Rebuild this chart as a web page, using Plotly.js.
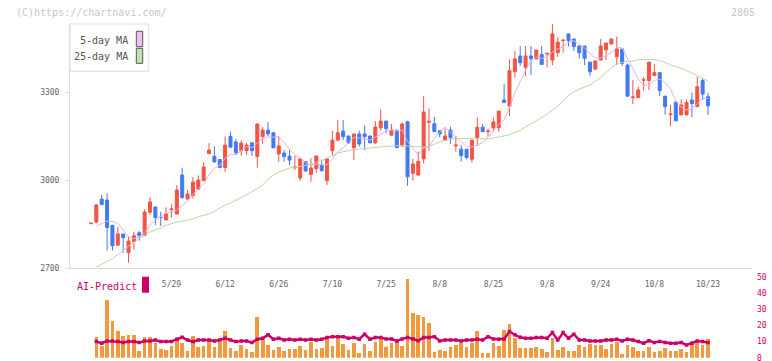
<!DOCTYPE html>
<html><head><meta charset="utf-8">
<script src="https://cdn.plot.ly/plotly-3.0.1.min.js"></script>
<style>html,body{margin:0;padding:0;background:#fff}#chart{width:772px;height:361px}</style>
</head><body><div id="chart"></div>
<script>
// Trading dates (2025)
const dates = ['5/8','5/9','5/12','5/13','5/14','5/15','5/16','5/19','5/20','5/21','5/22','5/23','5/26','5/27','5/28','5/29','5/30',
'6/2','6/3','6/4','6/5','6/6','6/9','6/10','6/11','6/12','6/13','6/16','6/17','6/18','6/19','6/20','6/23','6/24','6/25','6/26','6/27','6/30',
'7/1','7/2','7/3','7/4','7/7','7/8','7/9','7/10','7/11','7/14','7/15','7/16','7/17','7/18','7/22','7/23','7/24','7/25','7/28','7/29','7/30','7/31',
'8/1','8/4','8/5','8/6','8/7','8/8','8/12','8/13','8/14','8/15','8/18','8/19','8/20','8/21','8/22','8/25','8/26','8/27','8/28','8/29',
'9/1','9/2','9/3','9/4','9/5','9/8','9/9','9/10','9/11','9/12','9/16','9/17','9/18','9/19','9/22','9/24','9/25','9/26','9/29','9/30',
'10/1','10/2','10/3','10/6','10/7','10/8','10/9','10/10','10/14','10/15','10/16','10/17','10/20','10/21','10/22','10/23'];

const openP = [2851,2857,2935,2932,2845,2778,2816,2752,2790,2820,2811,2890,2908,2873,2864,2899,2884,3017,2935,2947,
2969,2998,3090,3081,3070,3043,3149,3130,3100,3100,3127,3080,3148,3170,3161,3089,3092,3081,3042,3007,
3063,3019,3039,3051,2998,3100,3136,3167,3150,3110,3157,3157,3150,3127,3178,3201,3153,3170,3116,3199,
3023,3017,3072,3197,3192,3168,3136,3170,3117,3105,3105,3071,3145,3180,3165,3178,3178,3273,3252,3369,
3423,3384,3423,3413,3428,3430,3409,3434,3476,3498,3481,3457,3457,3402,3378,3409,3444,3464,3420,3447,
3392,3281,3281,3340,3339,3356,3366,3286,3223,3266,3222,3222,3273,3250,3339,3284];
const highP = [2853,2918,2949,2955,2848,2840,2817,2807,2824,2826,2900,2941,2910,2892,2907,2917,2983,3042,2966,3010,
3016,3061,3126,3115,3071,3148,3165,3139,3136,3127,3128,3192,3180,3198,3162,3148,3102,3102,3082,3072,
3064,3074,3083,3070,3073,3167,3205,3205,3151,3158,3168,3187,3151,3201,3242,3202,3191,3171,3196,3202,
3072,3097,3286,3244,3215,3169,3176,3182,3150,3119,3106,3137,3214,3191,3176,3213,3236,3327,3411,3440,
3457,3457,3457,3443,3457,3433,3532,3487,3478,3499,3482,3458,3458,3403,3407,3481,3468,3482,3489,3448,
3397,3341,3318,3352,3403,3395,3367,3287,3256,3267,3275,3275,3298,3352,3347,3298];
const lowP = [2851,2852,2916,2760,2760,2777,2752,2718,2762,2793,2810,2881,2847,2843,2863,2873,2883,2937,2934,2937,
2966,2997,3089,3059,3040,3028,3111,3086,3083,3085,3082,3042,3123,3150,3108,3062,3062,3051,3034,2998,
3028,2994,3025,3028,2983,3085,3135,3136,3123,3068,3114,3102,3125,3122,3168,3159,3152,3108,3115,2980,
2998,3014,3057,3099,3164,3145,3135,3123,3097,3063,3070,3059,3116,3164,3148,3165,3165,3263,3218,3349,
3389,3355,3358,3412,3392,3384,3392,3420,3434,3455,3440,3414,3392,3355,3377,3408,3409,3463,3392,3389,
3284,3259,3280,3305,3307,3355,3286,3223,3184,3201,3221,3221,3214,3249,3273,3222];
const closeP = [2853,2915,2916,2838,2776,2816,2804,2792,2810,2810,2891,2925,2872,2872,2884,2901,2966,2940,2952,2993,
3000,3044,3102,3062,3043,3119,3112,3093,3126,3119,3100,3191,3170,3157,3110,3116,3080,3068,3044,3072,
3031,3041,3082,3032,3072,3136,3161,3148,3127,3157,3123,3148,3127,3181,3201,3175,3170,3111,3191,3011,
3055,3063,3232,3200,3165,3157,3150,3144,3119,3083,3077,3136,3180,3165,3167,3198,3235,3264,3373,3413,
3400,3423,3414,3443,3394,3432,3498,3470,3477,3475,3455,3434,3415,3369,3406,3457,3467,3481,3447,3398,
3286,3283,3307,3342,3402,3366,3305,3250,3225,3202,3256,3264,3261,3318,3293,3253];

const ma5 = [null,2843,2852,2860,2859,2852,2830,2805,2800,2806,2821,2846,2862,2874,2889,2891,2899,2913,2929,2950,
2970,2986,3018,3040,3050,3074,3088,3086,3099,3114,3110,3126,3141,3147,3146,3149,3127,3106,3084,3076,
3059,3051,3054,3052,3052,3073,3097,3110,3129,3146,3143,3141,3136,3147,3156,3166,3171,3168,3170,3132,
3108,3086,3110,3112,3143,3163,3181,3163,3147,3130,3114,3112,3119,3128,3145,3169,3189,3206,3247,3297,
3337,3375,3405,3419,3414,3421,3436,3447,3454,3470,3475,3462,3451,3430,3416,3416,3423,3436,3452,3450,
3416,3379,3344,3323,3324,3340,3344,3333,3310,3270,3248,3239,3242,3260,3278,3278];
const ma25 = [null,2703,2712,2722,2732,2746,2758,2775,2789,2801,2812,2823,2830,2836,2845,2852,2857,2860,2863,2867,
2875,2880,2884,2894,2905,2915,2922,2932,2940,2949,2959,2971,2983,3003,3017,3027,3034,3041,3043,3046,
3049,3053,3061,3066,3075,3084,3092,3097,3101,3103,3105,3107,3111,3112,3114,3115,3116,3117,3118,3116,
3114,3112,3112,3114,3123,3130,3135,3140,3141,3142,3143,3142,3140,3140,3141,3143,3146,3150,3155,3162,
3170,3181,3191,3203,3213,3225,3237,3252,3269,3288,3300,3310,3317,3324,3337,3349,3366,3384,3394,3401,
3405,3406,3410,3411,3412,3411,3407,3401,3392,3387,3381,3373,3365,3356,3346,3337];

const aiBars = [null,13.1,7.3,35.6,22.9,16.3,13.5,14.2,14.2,4.4,13.1,13.1,9.4,5.4,4.8,7.3,11.0,9.4,4.4,13.5,
6.9,7.3,10.6,6.9,10,16.7,6.3,4.4,7.9,5.4,3.8,25,11,7.9,4.8,6.9,4.4,5.4,5.2,7.3,
4.8,10,5.4,6.3,12.1,7.3,13.1,8.5,4.8,9.4,3.1,8.5,4.4,10,12.1,6.9,9.4,10,7.3,49.2,
27.7,26.3,25,21.7,3.8,4.8,4.4,6.9,7.9,9.4,6.9,9.4,16.7,3.1,3.1,9.4,7.3,17.3,21,12.1,
5.8,5.8,5.8,6.5,5.2,3.8,12.1,4.8,6.5,4.2,4.2,7.9,6.5,8.5,7.9,7.9,5.2,8.5,10,2.3,
7.9,6.5,4.4,4.4,6.5,3.8,4.4,5.8,4.4,4.4,5.2,3.8,8.5,10,7.9,11.6];
const aiLine = [null,10.0,9.0,10.4,10.4,10.0,9.4,10.0,10.0,9.4,10.4,10.4,11.0,10.0,10.0,10.0,11.5,12.7,11.0,10.0,
11.0,11.0,11.0,10.4,11.0,12.1,11.0,10.0,10.4,10.4,9.4,11.5,12.1,14.2,11.5,12.1,11.0,11.5,11.0,11.5,
11.0,11.5,11.0,11.5,12.5,13.1,13.1,13.1,12.1,12.5,11.5,14.6,11.5,12.5,12.5,11.7,11.7,10.4,11.7,12.5,
11.7,10.6,12.5,12.5,13.1,10.4,11.0,11.0,11.0,10.4,11.0,11.0,11.5,11.0,13.1,11.7,11.5,11.7,16.3,14.2,
12.7,12.1,12.1,12.5,12.5,12.1,15.6,11.0,15.6,12.1,14.6,11.0,11.0,10.4,10.4,10.4,11.0,11.0,11.5,10.4,
11.5,11.0,10.0,9.0,10.6,9.4,10.0,9.4,9.0,9.0,9.4,7.9,9.0,10.4,10.0,9.4];

const tickDates = ['5/29','6/12','6/26','7/10','7/25','8/8','8/25','9/8','9/24','10/8','10/23'];
const priceTicks = [2700,3000,3300];
const aiTicks = [0,10,20,30,40,50];

const W = 772, H = 361;
const px = x => x / W, py = y => 1 - y / H;
const MONO = 'DejaVu Sans Mono, monospace';
const RED = '#f25444', BLUE = '#427af0', MAG = '#cc0066';

const traces = [
  {type:'candlestick', x:dates, open:openP, high:highP, low:lowP, close:closeP,
   xaxis:'x', yaxis:'y', hoverinfo:'skip', whiskerwidth:0,
   increasing:{line:{color:RED,width:1}, fillcolor:RED},
   decreasing:{line:{color:BLUE,width:1}, fillcolor:BLUE}, showlegend:false},
  {type:'scatter', mode:'lines', x:dates, y:ma25, xaxis:'x', yaxis:'y',
   line:{color:'#b4dca4', width:1}, hoverinfo:'skip', showlegend:false},
  {type:'scatter', mode:'lines', x:dates, y:ma5, xaxis:'x', yaxis:'y',
   line:{color:'#e8b0e8', width:1}, hoverinfo:'skip', showlegend:false},
  {type:'bar', x:dates, y:aiBars, xaxis:'x', yaxis:'y2', width:0.68,
   marker:{color:'#f2983e', line:{width:0}}, hoverinfo:'skip', showlegend:false},
  {type:'scatter', mode:'lines+markers', x:dates, y:aiLine, xaxis:'x', yaxis:'y2',
   line:{color:MAG, width:2.5}, marker:{color:MAG, size:3.5, symbol:'square'},
   hoverinfo:'skip', showlegend:false}
];

const layout = {
  width:W, height:H, margin:{l:0,r:0,t:0,b:0},
  paper_bgcolor:'#fff', plot_bgcolor:'rgba(0,0,0,0)',
  showlegend:false, boxgap:0.2, bargap:0,
  font:{family:MONO, size:8, color:'#666'},
  xaxis:{domain:[px(70), px(752)], type:'category', range:[-3.91,123.2],
    anchor:'y', showline:true, linecolor:'#dddddd', linewidth:1,
    showgrid:false, zeroline:false, ticks:'', tickvals:tickDates, ticktext:tickDates,
    tickfont:{family:MONO, size:8, color:'#666'}, ticklabelstandoff:8,
    rangeslider:{visible:false}, fixedrange:true},
  xaxis3:{domain:[px(70), px(752)], overlaying:'x', anchor:'y', type:'linear', range:[0,11],
    tickvals:[0,1,2,3,4,5,6,7,8,9,10,11], ticks:'outside', ticklen:5, tickcolor:'#dddddd',
    showticklabels:false, showline:false, showgrid:false, zeroline:false},
  yaxis:{domain:[py(268), py(24)], range:[2700,3532], anchor:'x',
    showline:true, linecolor:'#dddddd', linewidth:1, showgrid:false, zeroline:false,
    tickvals:priceTicks, ticks:'outside', ticklen:4, tickcolor:'#dddddd',
    tickfont:{family:MONO, size:8, color:'#666'}, ticklabelstandoff:4},
  yaxis2:{domain:[py(357.7), py(277.3)], range:[0,50], anchor:'x', side:'right',
    showline:false, showgrid:false, zeroline:false, tickvals:aiTicks, ticks:'',
    ticklabeloverflow:'allow',
    tickfont:{family:MONO, size:8, color:MAG}, ticklabelstandoff:4},
  shapes:[
    {type:'rect', xref:'paper', yref:'paper', x0:px(70), x1:px(148.3), y0:py(71.3), y1:py(24),
     line:{color:'#dddddd', width:1}, fillcolor:'#ffffff'},
    {type:'rect', xref:'paper', yref:'paper', x0:px(136.3), x1:px(142.7), y0:py(46.7), y1:py(31.3),
     line:{color:'#555', width:1}, fillcolor:'#f0bff0'},
    {type:'rect', xref:'paper', yref:'paper', x0:px(136.3), x1:px(142.7), y0:py(63.3), y1:py(48.3),
     line:{color:'#555', width:1}, fillcolor:'#c0e4b0'},
    {type:'rect', xref:'paper', yref:'paper', x0:px(142), x1:px(149), y0:py(292.7), y1:py(276.7),
     line:{width:0}, fillcolor:MAG}
  ],
  annotations:[
    {xref:'paper', yref:'paper', x:px(14), y:py(12), xanchor:'left', yanchor:'middle', showarrow:false,
     text:'(C)https://chartnavi.com/', font:{family:MONO, size:10, color:'#c8c8c8'}},
    {xref:'paper', yref:'paper', x:px(757), y:py(12), xanchor:'right', yanchor:'middle', showarrow:false,
     text:'2805', font:{family:MONO, size:10, color:'#c8c8c8'}},
    {xref:'paper', yref:'paper', x:px(130), y:py(40), xanchor:'right', yanchor:'middle', showarrow:false,
     text:'5-day MA', font:{family:MONO, size:10, color:'#555'}},
    {xref:'paper', yref:'paper', x:px(130), y:py(56.5), xanchor:'right', yanchor:'middle', showarrow:false,
     text:'25-day MA', font:{family:MONO, size:10, color:'#555'}},
    {xref:'paper', yref:'paper', x:px(75), y:py(286), xanchor:'left', yanchor:'middle', showarrow:false,
     text:'AI-Predict', font:{family:MONO, size:10, color:MAG}}
  ]
};

Plotly.newPlot('chart', traces, layout, {staticPlot:true, displayModeBar:false});
</script>
</body></html>
